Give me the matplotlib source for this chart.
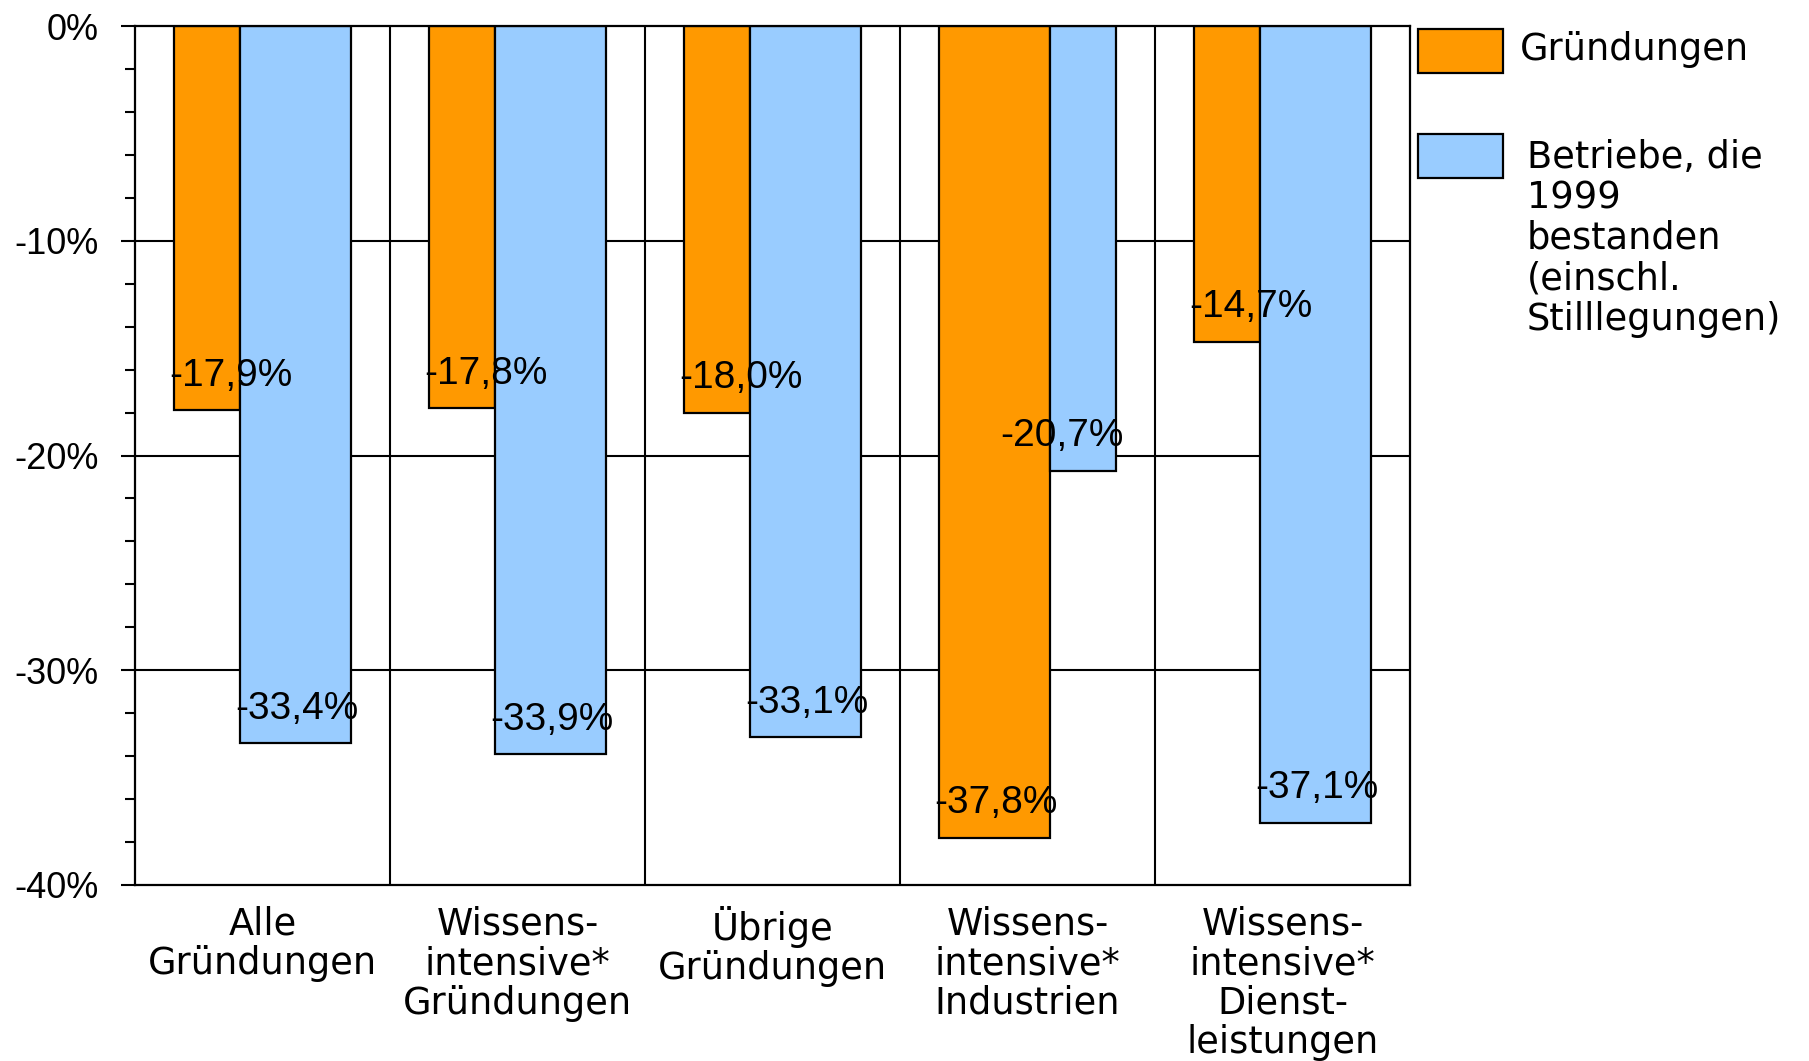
import numpy as np
import matplotlib
matplotlib.use("Agg")
import matplotlib.pyplot as plt
from matplotlib.patches import Rectangle
from matplotlib.ticker import MultipleLocator, FuncFormatter

# Data
categories = [
    "Alle\nGründungen",
    "Wissens-\nintensive*\nGründungen",
    "Übrige\nGründungen",
    "Wissens-\nintensive*\nIndustrien",
    "Wissens-\nintensive*\nDienst-\nleistungen",
]
gruendungen = [-17.9, -17.8, -18.0, -37.8, -14.7]
betriebe = [-33.4, -33.9, -33.1, -20.7, -37.1]
series_labels = ["Gründungen", "Betriebe, die\n1999\nbestanden\n(einschl.\nStilllegungen)"]

ORANGE = "#FF9900"
BLUE = "#99CCFF"
TEXT_FONT = "DejaVu Sans"
NUM_FONT = "Liberation Sans"

W, H = 1809, 1061
fig = plt.figure(figsize=(W / 100, H / 100), dpi=100)
ax = fig.add_axes([135 / W, 1 - 885 / H, (1410 - 135) / W, (885 - 26) / H])

x = np.arange(len(categories))
narrow_w, wide_w = 0.259, 0.435
start = -0.347


def fmt(v):
    return f"{v:.1f}%".replace(".", ",")


for i in range(len(categories)):
    g, b = gruendungen[i], betriebe[i]
    # the larger drop of each pair gets the wider bar
    wg = wide_w if abs(g) > abs(b) else narrow_w
    wb = narrow_w if abs(g) > abs(b) else wide_w
    ax.bar(x[i] + start, g, width=wg, align="edge", color=ORANGE,
           edgecolor="black", linewidth=1.6, zorder=2)
    ax.bar(x[i] + start + wg, b, width=wb, align="edge", color=BLUE,
           edgecolor="black", linewidth=1.6, zorder=2)
    ax.text(x[i] - 0.367, g + 1.13, fmt(g), ha="left", va="baseline",
            fontsize=28, family=NUM_FONT, zorder=5)
    ax.text(x[i] - 0.108, b + 1.13, fmt(b), ha="left", va="baseline",
            fontsize=28, family=NUM_FONT, zorder=5)

ax.set_xlim(-0.5, len(categories) - 0.5)
ax.set_ylim(-40, 0)

# Grid: horizontal at major ticks, vertical between categories
for yv in (-10, -20, -30):
    ax.axhline(yv, color="black", linewidth=1.5, zorder=1)
for k in range(len(categories) - 1):
    ax.axvline(k + 0.5, color="black", linewidth=1.5, zorder=1)

for s in ax.spines.values():
    s.set_linewidth(1.6)
    s.set_zorder(3)

ax.yaxis.set_major_locator(MultipleLocator(10))
ax.yaxis.set_minor_locator(MultipleLocator(2))
ax.yaxis.set_major_formatter(FuncFormatter(lambda v, p: f"{v:.0f}%"))
ax.tick_params(axis="y", which="major", direction="out", length=10, width=1.5,
               pad=16, labelsize=26)
ax.tick_params(axis="y", which="minor", direction="out", length=7, width=1.5)
for lab in ax.get_yticklabels():
    lab.set_family(NUM_FONT)

ax.set_xticks(x)
ax.set_xticklabels(categories, fontsize=26.5, family=TEXT_FONT, linespacing=1.085)
ax.tick_params(axis="x", which="both", length=0, pad=15)

# Legend
def legend_entry(y_top, color, label, text_x, text_y, va):
    fig.patches.append(Rectangle((1418 / W, 1 - (y_top + 44) / H), 85 / W, 44 / H,
                                 transform=fig.transFigure, facecolor=color,
                                 edgecolor="black", linewidth=1.6))
    fig.text(text_x / W, 1 - text_y / H, label, ha="left", va=va, fontsize=26.5,
             family=TEXT_FONT, linespacing=1.12)


legend_entry(29, ORANGE, series_labels[0], 1520, 49, "center")
legend_entry(134, BLUE, series_labels[1], 1527, 139, "top")

fig.savefig("out.png", dpi=100, facecolor="white")
